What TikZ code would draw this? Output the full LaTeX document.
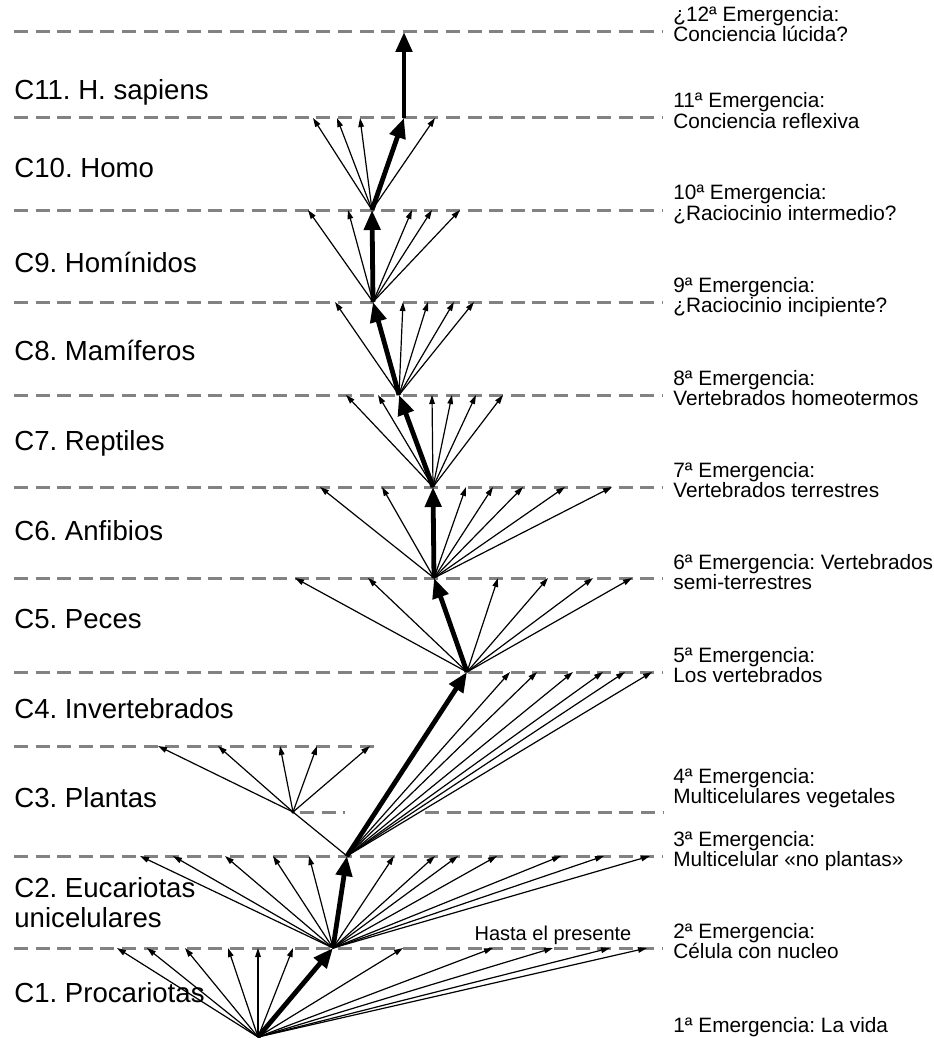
\documentclass[tikz,border=0pt]{standalone}
\usepackage{fontspec}
\setmainfont{Liberation Sans}
\usetikzlibrary{arrows.meta}
\definecolor{eragray}{RGB}{130,130,130}

\begin{document}
\frenchspacing
\begin{tikzpicture}[x=0.5pt,y=-0.5pt,
    eraline/.style={eragray, line width=1.5pt, dash pattern=on 7pt off 3.8pt},
    twig/.style={line width=0.6pt, -{Triangle[length=4.5pt,width=2.8pt]}},
    mainstem/.style={line width=2.4pt, -{Triangle[length=10pt,width=8pt]}},
    clade/.style={anchor=base west, inner sep=0pt, align=left, font=\fontsize{13.8}{15}\selectfont},
    emergence/.style={anchor=base west, inner sep=0pt, align=left, font=\fontsize{10.4}{10}\selectfont}]
    \useasboundingbox (0,0) rectangle (933,1038);

    % Horizontal era lines
    \foreach \y in {32,118,210,302,395,487,578,672,856,948}
        \draw[eraline] (14,\y) -- (663,\y);
    \draw[eraline] (14,746) -- (377,746);
    \draw[eraline] (300,812) -- (345,812);
    \draw[eraline] (425,812) -- (663,812);

    % Branch points of the main line
    \coordinate (p0) at (258,1037);
    \coordinate (p1) at (333,948);
    \coordinate (p2) at (347,856);
    \coordinate (plants) at (293,812);
    \coordinate (p3) at (467,672);
    \coordinate (p4) at (434,578);
    \coordinate (p5) at (433,487);
    \coordinate (p6) at (399,395);
    \coordinate (p7) at (373,302);
    \coordinate (p8) at (372,210);
    \coordinate (p9) at (404,118);
    \coordinate (p10) at (404,32);

    % Side branches
    \foreach \x in {117,147,185,228,258,293,403,493,553,610,647}
        {\coordinate (b1-\x) at (\x,948); \draw[twig] (p0) -- (b1-\x);}
    \foreach \x in {140,173,225,273,309,394,435,458,497,561,604,650}
        {\coordinate (b2-\x) at (\x,856); \draw[twig] (p1) -- (b2-\x);}
    \foreach \x in {510,537,573,603,625,652}
        {\coordinate (b3-\x) at (\x,672); \draw[twig] (p2) -- (b3-\x);}
    \foreach \x in {158,218,280,317,370}
        {\coordinate (b4-\x) at (\x,746); \draw[twig] (plants) -- (b4-\x);}
    \foreach \x in {295,368,498,548,593,632}
        {\coordinate (b5-\x) at (\x,578); \draw[twig] (p3) -- (b5-\x);}
    \foreach \x in {320,382,466,493,523,565,612}
        {\coordinate (b6-\x) at (\x,487); \draw[twig] (p4) -- (b6-\x);}
    \foreach \x in {346,378,432,452,476,503}
        {\coordinate (b7-\x) at (\x,395); \draw[twig] (p5) -- (b7-\x);}
    \foreach \x in {335,403,428,454,474}
        {\coordinate (b8-\x) at (\x,302); \draw[twig] (p6) -- (b8-\x);}
    \foreach \x in {308,348,412,432,460}
        {\coordinate (b9-\x) at (\x,210); \draw[twig] (p7) -- (b9-\x);}
    \foreach \x in {313,337,360,435}
        {\coordinate (b10-\x) at (\x,118); \draw[twig] (p8) -- (b10-\x);}
    \draw[line width=0.6pt] (p2) -- (plants);
    \fill (plants) circle (1.8);

    % Main line
    \draw[mainstem] (p0) -- (p1);
    \draw[mainstem] (p1) -- (p2);
    \draw[mainstem] (p2) -- (p3);
    \draw[mainstem] (p3) -- (p4);
    \draw[mainstem] (p4) -- (p5);
    \draw[mainstem] (p5) -- (p6);
    \draw[mainstem] (p6) -- (p7);
    \draw[mainstem] (p7) -- (p8);
    \draw[mainstem] (p8) -- (p9);
    \draw[mainstem] (p9) -- (p10);

    % Clades
    \node[clade] (c11) at (14,100) {C11. H. sapiens};
    \node[clade] (c10) at (14,177) {C10. Homo};
    \node[clade] (c9) at (14,272) {C9. Homínidos};
    \node[clade] (c8) at (14,360) {C8. Mamíferos};
    \node[clade] (c7) at (14,450) {C7. Reptiles};
    \node[clade] (c6) at (14,540) {C6. Anfibios};
    \node[clade] (c5) at (14,628) {C5. Peces};
    \node[clade] (c4) at (14,718) {C4. Invertebrados};
    \node[clade] (c3) at (14,807) {C3. Plantas};
    \node[clade] (c2) at (14,927) {C2. Eucariotas\\unicelulares};
    \node[clade] (c1) at (14,1002) {C1. Procariotas};

    % Emergences
    \node[emergence] (e12) at (673,42) {¿12ª Emergencia:\\Conciencia lúcida?};
    \node[emergence] (e11) at (673,128) {11ª Emergencia:\\Conciencia reflexiva};
    \node[emergence] (e10) at (673,220) {10ª Emergencia:\\¿Raciocinio intermedio?};
    \node[emergence] (e9) at (673,312) {9ª Emergencia:\\¿Raciocinio incipiente?};
    \node[emergence] (e8) at (673,405) {8ª Emergencia:\\Vertebrados homeotermos};
    \node[emergence] (e7) at (673,497) {7ª Emergencia:\\Vertebrados terrestres};
    \node[emergence] (e6) at (673,589) {6ª Emergencia: Vertebrados\\semi-terrestres};
    \node[emergence] (e5) at (673,682) {5ª Emergencia:\\Los vertebrados};
    \node[emergence] (e4) at (673,803) {4ª Emergencia:\\Multicelulares vegetales};
    \node[emergence] (e3) at (673,866) {3ª Emergencia:\\Multicelular «no plantas»};
    \node[emergence] (e2) at (673,958) {2ª Emergencia:\\Célula con nucleo};
    \node[emergence] (e1) at (673,1032) {1ª Emergencia: La vida};
    \node[anchor=base, inner sep=0pt, font=\fontsize{10}{10}\selectfont] (hasta) at (553,940) {Hasta el presente};
\end{tikzpicture}
\end{document}
